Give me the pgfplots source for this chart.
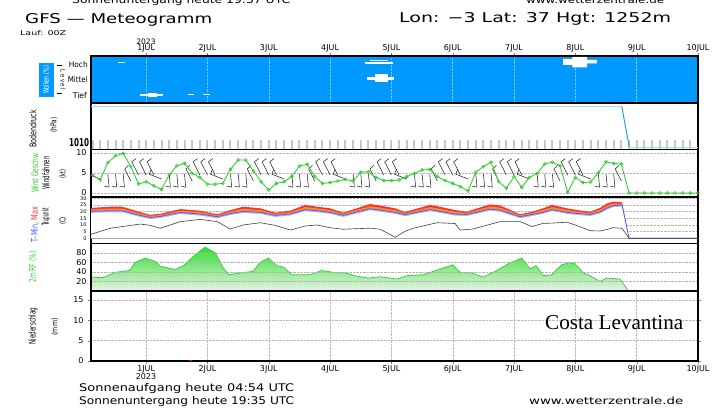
\documentclass[border=0pt]{standalone}
\usepackage{fontspec}
\setmainfont{DejaVu Sans}
\newfontfamily\seriffont{Liberation Serif}
\usepackage{graphicx}
\usepackage{pgfplots}
\usepackage{pgfplotstable}
\pgfplotsset{compat=1.18}
\definecolor{cloudblue}{HTML}{0099FF}
\definecolor{windgreen}{HTML}{33CC33}
\definecolor{tred}{HTML}{FF3030}
\definecolor{torange}{HTML}{FF8C20}
\definecolor{tblue}{HTML}{4A5CFF}
\definecolor{tlav}{HTML}{A8B0FF}
\definecolor{pblue}{HTML}{A6DAF5}
\definecolor{pdrop}{HTML}{2A9DF0}
\definecolor{rfgreen}{HTML}{2EE02E}
\definecolor{rfline}{HTML}{44CC44}
\definecolor{rfgray}{HTML}{B9CBB9}
\definecolor{rfpale}{HTML}{E8F2E8}
\newcommand{\fb}[3]{\resizebox{#1}{#2}{#3}}
\pgfplotsset{
  mpanel/.style={scale only axis, width=607pt, xmin=0.1, xmax=10,
    axis line style={line width=1.2pt}, xtick=\empty, ytick=\empty,
    tick label style={font=\fontsize{8}{9}\selectfont},
    /pgf/number format/assume math mode=true, anchor=south west,
    major tick length=0pt},
}
\pgfplotstableread{
d tmax tmid tmin tlow td
0.1 22.8 21.7 20.3 19.1 3.0
0.413 23.7 22.3 20.7 19.5 7.5
0.609 23.7 22.3 20.7 19.5 8.8
0.902 19.7 18.6 17.2 16.0 10.7
1.065 17.6 16.7 15.6 14.4 9.7
1.228 18.4 17.5 16.4 15.2 7.5
1.554 21.9 20.8 19.4 18.2 12.5
1.88 20.7 19.6 18.2 17.0 14.2
2.158 18.0 17.2 16.2 15.0 12.5
2.37 21.1 20.0 18.6 17.4 7.0
2.582 23.7 22.1 20.2 19.0 10.0
2.859 22.5 21.2 19.5 18.3 11.7
3.103 19.2 18.3 17.2 16.0 9.7
3.348 20.7 19.6 18.2 17.0 6.2
3.593 25.0 23.4 21.5 20.3 9.2
3.788 23.7 22.4 20.7 19.5 10.0
4.0 22.5 21.2 19.5 18.3 7.9
4.212 19.2 18.3 17.2 16.0 6.8
4.652 25.7 24.1 22.2 21.0 7.6
4.815 24.6 23.0 21.1 19.9 6.8
5.06 22.5 21.2 19.5 18.3 0.8
5.223 19.7 18.8 17.7 16.5 5.3
5.353 21.5 20.4 19.0 17.8 7.5
5.631 25.0 23.4 21.5 20.3 10.5
5.745 24.1 22.5 20.6 19.4 11.7
6.038 21.2 19.9 18.2 17.0 11.1
6.12 20.6 19.5 18.1 16.9 6.2
6.234 19.9 19.0 17.9 16.7 6.6
6.332 21.5 20.4 19.0 17.8 7.0
6.609 25.4 23.8 21.9 20.7 10.5
6.772 24.6 23.0 21.1 19.9 12.5
7.098 18.0 17.2 16.2 15.0 12.5
7.294 19.9 19.0 17.9 16.7 8.8
7.473 22.5 21.2 19.5 18.3 11.2
7.62 25.0 23.4 21.5 20.3 11.4
7.865 22.5 21.2 19.5 18.3 12.1
8.044 21.1 20.0 18.6 17.4 9.2
8.24 19.9 19.0 17.9 16.7 5.7
8.403 22.8 21.5 19.8 18.6 5.5
8.517 26.2 24.6 22.7 21.5 6.6
8.615 27.5 26.1 24.5 23.3 8.0
8.761 27.0 26.1 25.0 23.8 7.5
8.875 0 0 0 0 0
10.0 0 0 0 0 0
}\temps
\begin{document}
\begin{tikzpicture}
\useasboundingbox (0pt,0pt) rectangle (728pt,409pt);

% ---------- header / footer texts ----------
\node[anchor=base west, inner sep=0] at (72pt,405.5pt) {\fb{218pt}{8pt}{Sonnenuntergang heute 19:37 UTC}};
\node[anchor=base west, inner sep=0] at (526pt,405pt) {\fb{138pt}{7pt}{www.wetterzentrale.de}};
\node[anchor=base west, inner sep=0] at (25pt,385.7pt) {\fb{187pt}{10pt}{GFS — Meteogramm}};
\node[anchor=base west, inner sep=0] at (399pt,386pt) {\fb{272pt}{10pt}{Lon: −3 Lat: 37 Hgt: 1252m}};
\node[anchor=base west, inner sep=0] at (20pt,373.7pt) {\fb{46pt}{5pt}{Lauf: 00Z}};
\node[anchor=base, inner sep=0, font=\fontsize{7.5}{9}\selectfont] at (146pt,364.5pt) {2023};
\node[anchor=base, inner sep=0, font=\fontsize{8}{9}\selectfont] at (146pt,29.7pt) {2023};
\node[anchor=base west, inner sep=0] at (79pt,17pt) {\fb{215pt}{8pt}{Sonnenaufgang heute 04:54 UTC}};
\node[anchor=base west, inner sep=0] at (79pt,4.5pt) {\fb{215pt}{8pt}{Sonnenuntergang heute 19:35 UTC}};
\node[anchor=base west, inner sep=0] at (529pt,4pt) {\fb{154pt}{7.5pt}{www.wetterzentrale.de}};

% ---------- left labels ----------
\fill[cloudblue] (39pt,312pt) rectangle (54pt,346pt);
\node[rotate=90, inner sep=0, white] at (46.5pt,329pt) {\fb{28pt}{6pt}{Wolken (\%)}};
\node[rotate=-90, inner sep=0] at (63pt,329pt) {\fb{20pt}{5pt}{L e v e l}};
\draw[line width=0.6pt] (57pt,344pt) -- (62pt,344pt);
\draw[line width=0.6pt] (57pt,316pt) -- (62pt,316pt);
\node[anchor=east, inner sep=0] at (88pt,344.5pt) {\fb{19pt}{6pt}{Hoch}};
\node[anchor=east, inner sep=0] at (88pt,329pt) {\fb{20pt}{6pt}{Mittel}};
\node[anchor=east, inner sep=0] at (87pt,313.5pt) {\fb{14pt}{6pt}{Tief}};
\node[rotate=90, inner sep=0] at (33pt,280pt) {\fb{38pt}{7pt}{Bodendruck}};
\node[rotate=90, inner sep=0] at (54pt,284pt) {\fb{15pt}{6pt}{(hPa)}};
\node[inner sep=0] at (79pt,266pt) {\fb{20pt}{8pt}{\bfseries 1010}};
\node[rotate=90, inner sep=0, windgreen] at (35pt,236pt) {\fb{40pt}{7pt}{Wind Geschw.}};
\node[rotate=90, inner sep=0] at (46pt,236pt) {\fb{33pt}{7pt}{Windfahnen}};
\node[rotate=90, inner sep=0] at (63pt,235pt) {\fb{9pt}{6pt}{(kt)}};
\node[rotate=90, inner sep=0] at (35pt,184pt) {\fb{36pt}{7pt}{\textcolor{tblue}{T–Min,} \textcolor{tred}{Max}}};
\node[rotate=90, inner sep=0] at (46pt,192pt) {\fb{18pt}{7pt}{Taupunkt}};
\node[rotate=90, inner sep=0] at (63pt,188pt) {\fb{8pt}{6pt}{(C)}};
\node[rotate=90, inner sep=0, windgreen] at (33pt,142pt) {\fb{31pt}{7pt}{2m RF (\%)}};
\node[rotate=90, inner sep=0] at (33pt,83pt) {\fb{37pt}{7pt}{Niederschlag}};
\node[rotate=90, inner sep=0] at (55pt,82pt) {\fb{17pt}{6pt}{(mm)}};

% ---------- clouds ----------
\begin{axis}[mpanel, at={(91pt,306pt)}, height=47pt, ymin=0, ymax=47,
  axis background/.style={fill=cloudblue},
  xtick={1,2,3,4,5,6,7,8,9,10},
  xticklabels={1JUL,2JUL,3JUL,4JUL,5JUL,6JUL,7JUL,8JUL,9JUL,10JUL},
  xticklabel pos=top, xtick pos=top, tick align=outside, major tick length=3pt,
  xticklabel style={inner sep=0.3pt},
  xmajorgrids, grid style={densely dotted, white!45!cloudblue, line width=0.6pt}]
\addplot[fill=white, draw=none] coordinates {(0.543,39.5) (0.658,39.5) (0.658,41) (0.543,41)} -- cycle;
\addplot[fill=white, draw=none] coordinates {(0.902,7.3) (1.277,7.3) (1.277,8.8) (0.902,8.8)} -- cycle;
\addplot[fill=white, draw=none] coordinates {(1.033,6) (1.18,6) (1.18,10) (1.033,10)} -- cycle;
\addplot[fill=white, draw=none] coordinates {(1.685,7.5) (1.78,7.5) (1.78,8.7) (1.685,8.7)} -- cycle;
\addplot[fill=white, draw=none] coordinates {(1.93,7.5) (2.04,7.5) (2.04,8.7) (1.93,8.7)} -- cycle;
\addplot[fill=white, draw=none] coordinates {(4.571,39.3) (5.027,39.3) (5.027,40.7) (4.571,40.7)} -- cycle;
\addplot[fill=white, draw=none] coordinates {(4.65,41.5) (4.95,41.5) (4.95,42.8) (4.65,42.8)} -- cycle;
\addplot[fill=white, draw=none] coordinates {(4.603,23) (5.044,23) (5.044,26) (4.603,26)} -- cycle;
\addplot[fill=white, draw=none] coordinates {(4.734,21) (4.946,21) (4.946,28.5) (4.734,28.5)} -- cycle;
\addplot[fill=white, draw=none] coordinates {(7.8,38) (7.95,38) (7.95,35.5) (8.19,35.5) (8.19,39.5) (8.35,39.5) (8.35,43) (8.19,43) (8.19,46) (7.95,46) (7.95,44) (7.8,44)} -- cycle;
\end{axis}

% ---------- pressure ----------
\begin{axis}[mpanel, at={(91pt,259.5pt)}, height=46.5pt, ymin=-54.7, ymax=1102.1,
  xtick={0.125,0.25,...,10}, xticklabels={}, xtick pos=bottom, tick align=inside,
  major tick length=9pt, xtick style={gray!45, line width=2pt}]
\addplot[pblue, line width=1.6pt] coordinates {(0.1,1010) (8.757,1010)};
\addplot[pdrop, line width=1pt] coordinates {(8.757,1010) (8.88,0)};
\addplot[pblue, line width=1.3pt] coordinates {(8.88,0) (10,0)};
\end{axis}

% ---------- wind ----------
\begin{axis}[mpanel, at={(91pt,212pt)}, height=47.5pt, ymin=-1, ymax=10.875,
  ytick={0,5,10}, yticklabel style={xshift=-1pt},
  ymajorgrids, grid style={densely dotted, gray!55}]
\addplot[quiver={u=\thisrow{u},v=\thisrow{v}}, black!85, line width=0.55pt] table[row sep=\\] {
x y u v\\
0.125 4.5 -0.11 3.3\\ 0.25 3.5 -0.2 1.2\\ 0.375 4.75 0.02 -3.3\\ 0.5 4.75 0.02 -3.3\\ 0.625 4.75 0.02 -3.3\\ 0.75 3.0 -0.1 3.0\\ 0.875 4.5 -0.11 3.3\\ 1.0 4.5 -0.11 3.3\\
1.125 4.5 -0.11 3.3\\ 1.25 3.5 -0.2 1.2\\ 1.375 4.75 0.02 -3.3\\ 1.5 4.75 0.02 -3.3\\ 1.625 4.75 0.02 -3.3\\ 1.75 3.0 -0.1 3.0\\ 1.875 4.5 -0.11 3.3\\ 2.0 4.5 -0.11 3.3\\
2.125 4.5 -0.11 3.3\\ 2.25 3.5 -0.2 1.2\\ 2.375 4.75 0.02 -3.3\\ 2.5 4.75 0.02 -3.3\\ 2.625 4.75 0.02 -3.3\\ 2.75 3.0 -0.1 3.0\\ 2.875 4.5 -0.11 3.3\\ 3.0 4.5 -0.11 3.3\\
3.125 4.5 -0.11 3.3\\ 3.25 3.5 -0.2 1.2\\ 3.375 4.75 0.02 -3.3\\ 3.5 4.75 0.02 -3.3\\ 3.625 4.75 0.02 -3.3\\ 3.75 3.0 -0.1 3.0\\ 3.875 4.5 -0.11 3.3\\ 4.0 4.5 -0.11 3.3\\
4.125 4.5 -0.11 3.3\\ 4.25 3.5 -0.2 1.2\\ 4.375 4.75 0.02 -3.3\\ 4.5 4.75 0.02 -3.3\\ 4.625 4.75 0.02 -3.3\\ 4.75 3.0 -0.1 3.0\\ 4.875 4.5 -0.11 3.3\\ 5.0 4.5 -0.11 3.3\\
5.125 4.5 -0.11 3.3\\ 5.25 3.5 -0.2 1.2\\ 5.375 4.75 0.02 -3.3\\ 5.5 4.75 0.02 -3.3\\ 5.625 4.75 0.02 -3.3\\ 5.75 3.0 -0.1 3.0\\ 5.875 4.5 -0.11 3.3\\ 6.0 4.5 -0.11 3.3\\
6.125 4.5 -0.11 3.3\\ 6.25 3.5 -0.2 1.2\\ 6.375 4.75 0.02 -3.3\\ 6.5 4.75 0.02 -3.3\\ 6.625 4.75 0.02 -3.3\\ 6.75 3.0 -0.1 3.0\\ 6.875 4.5 -0.11 3.3\\ 7.0 4.5 -0.11 3.3\\
7.125 4.5 -0.11 3.3\\ 7.25 3.5 -0.2 1.2\\ 7.375 4.75 0.02 -3.3\\ 7.5 4.75 0.02 -3.3\\ 7.625 4.75 0.02 -3.3\\ 7.75 3.0 -0.1 3.0\\ 7.875 4.5 -0.11 3.3\\ 8.0 4.5 -0.11 3.3\\
8.125 4.5 -0.11 3.3\\ 8.25 3.5 -0.2 1.2\\ 8.375 4.75 0.02 -3.3\\ 8.5 4.75 0.02 -3.3\\ 8.625 4.75 0.02 -3.3\\ 8.75 3.0 -0.1 3.0\\
};
\addplot[quiver={u=\thisrow{u},v=\thisrow{v}}, black!85, line width=0.55pt] table[row sep=\\] {
x y u v\\
0.015 7.8 0.07 0.8\\ 0.05 4.7 0.03 1.2\\ 0.395 1.45 -0.08 0.3\\ 0.52 1.45 -0.08 0.3\\ 0.645 1.45 -0.08 0.3\\ 0.65 6.0 0.06 0.9\\ 0.765 7.8 0.07 0.8\\ 0.89 7.8 0.07 0.8\\
1.015 7.8 0.07 0.8\\ 1.05 4.7 0.03 1.2\\ 1.395 1.45 -0.08 0.3\\ 1.52 1.45 -0.08 0.3\\ 1.645 1.45 -0.08 0.3\\ 1.65 6.0 0.06 0.9\\ 1.765 7.8 0.07 0.8\\ 1.89 7.8 0.07 0.8\\
2.015 7.8 0.07 0.8\\ 2.05 4.7 0.03 1.2\\ 2.395 1.45 -0.08 0.3\\ 2.52 1.45 -0.08 0.3\\ 2.645 1.45 -0.08 0.3\\ 2.65 6.0 0.06 0.9\\ 2.765 7.8 0.07 0.8\\ 2.89 7.8 0.07 0.8\\
3.015 7.8 0.07 0.8\\ 3.05 4.7 0.03 1.2\\ 3.395 1.45 -0.08 0.3\\ 3.52 1.45 -0.08 0.3\\ 3.645 1.45 -0.08 0.3\\ 3.65 6.0 0.06 0.9\\ 3.765 7.8 0.07 0.8\\ 3.89 7.8 0.07 0.8\\
4.015 7.8 0.07 0.8\\ 4.05 4.7 0.03 1.2\\ 4.395 1.45 -0.08 0.3\\ 4.52 1.45 -0.08 0.3\\ 4.645 1.45 -0.08 0.3\\ 4.65 6.0 0.06 0.9\\ 4.765 7.8 0.07 0.8\\ 4.89 7.8 0.07 0.8\\
5.015 7.8 0.07 0.8\\ 5.05 4.7 0.03 1.2\\ 5.395 1.45 -0.08 0.3\\ 5.52 1.45 -0.08 0.3\\ 5.645 1.45 -0.08 0.3\\ 5.65 6.0 0.06 0.9\\ 5.765 7.8 0.07 0.8\\ 5.89 7.8 0.07 0.8\\
6.015 7.8 0.07 0.8\\ 6.05 4.7 0.03 1.2\\ 6.395 1.45 -0.08 0.3\\ 6.52 1.45 -0.08 0.3\\ 6.645 1.45 -0.08 0.3\\ 6.65 6.0 0.06 0.9\\ 6.765 7.8 0.07 0.8\\ 6.89 7.8 0.07 0.8\\
7.015 7.8 0.07 0.8\\ 7.05 4.7 0.03 1.2\\ 7.395 1.45 -0.08 0.3\\ 7.52 1.45 -0.08 0.3\\ 7.645 1.45 -0.08 0.3\\ 7.65 6.0 0.06 0.9\\ 7.765 7.8 0.07 0.8\\ 7.89 7.8 0.07 0.8\\
8.015 7.8 0.07 0.8\\ 8.05 4.7 0.03 1.2\\ 8.395 1.45 -0.08 0.3\\ 8.52 1.45 -0.08 0.3\\ 8.645 1.45 -0.08 0.3\\ 8.65 6.0 0.06 0.9\\
};
\addplot[windgreen, line width=0.9pt, mark=o, mark size=1.5pt, mark options={fill=windgreen!35, line width=0.6pt}] table[row sep=\\] {
x y\\
0.125 4.5\\ 0.25 3.25\\ 0.375 7.6\\ 0.5 9.3\\ 0.625 9.9\\ 0.75 6.6\\ 0.875 2.25\\ 1.0 2.8\\ 1.125 1.8\\ 1.25 0.9\\ 1.375 4.5\\ 1.5 6.8\\ 1.625 7.4\\ 1.75 4.9\\ 1.875 3.9\\ 2.0 2.2\\
2.125 2.2\\ 2.25 2.4\\ 2.375 5.9\\ 2.5 8.25\\ 2.625 8.25\\ 2.75 5.5\\ 2.875 2.8\\ 3.0 0.75\\ 3.125 2.4\\ 3.25 2.8\\ 3.375 4.1\\ 3.5 6.75\\ 3.625 7.2\\ 3.75 4.1\\ 3.875 2.4\\ 4.0 2.6\\
4.125 3.0\\ 4.25 3.4\\ 4.375 3.0\\ 4.5 5.2\\ 4.625 5.3\\ 4.75 3.9\\ 4.875 3.1\\ 5.0 3.1\\ 5.125 3.25\\ 5.25 4.1\\ 5.375 4.9\\ 5.5 5.75\\ 5.625 5.9\\ 5.75 4.1\\ 5.875 3.1\\ 6.0 2.4\\
6.125 1.6\\ 6.25 0.5\\ 6.375 5.2\\ 6.5 6.6\\ 6.625 7.7\\ 6.75 2.8\\ 6.875 1.2\\ 7.0 4.1\\ 7.125 1.4\\ 7.25 3.9\\ 7.375 4.9\\ 7.5 7.25\\ 7.625 7.7\\ 7.75 6.8\\ 7.875 0.2\\ 8.0 3.9\\
8.125 2.6\\ 8.25 2.75\\ 8.375 5.1\\ 8.5 7.8\\ 8.625 7.4\\ 8.75 7.25\\ 8.875 0\\ 9.0 0\\ 9.125 0\\ 9.25 0\\ 9.375 0\\ 9.5 0\\ 9.625 0\\ 9.75 0\\ 9.875 0\\ 10.0 0\\
};
\end{axis}

% ---------- temperature ----------
\begin{axis}[mpanel, at={(91pt,165.7pt)}, height=46.3pt, ymin=-3.75, ymax=31,
  ytick={0,5,...,30}, yticklabel style={font=\fontsize{5}{5}\selectfont, xshift=-1pt},
  ymajorgrids, grid style={densely dotted, gray!55}]
\addplot[fill=tred, draw=none] table[x=d,y=tmax] {\temps} \closedcycle;
\addplot[fill=torange, draw=none] table[x=d,y=tmid] {\temps} \closedcycle;
\addplot[fill=tlav, draw=none] table[x=d,y=tmin] {\temps} \closedcycle;
\addplot[fill=white, draw=none] table[x=d,y=tlow] {\temps} \closedcycle;
\addplot[gray!70, line width=0.8pt] coordinates {(0.1,0) (10,0)};
\addplot[tblue, line width=0.8pt] table[x=d,y=tmin] {\temps};
\addplot[black!75, line width=0.6pt] table[x=d,y=td] {\temps};
\end{axis}

% ---------- relative humidity ----------
\begin{axis}[mpanel, at={(91pt,118pt)}, height=47.7pt, ymin=0, ymax=100,
  ytick={20,40,60,80}, yticklabel style={xshift=-1pt},
  ymajorgrids, grid style={densely dotted, gray!60}, axis on top]
\addplot[draw=rfline, line width=0.8pt, top color=rfgreen, middle color=rfgray, bottom color=rfpale] table[row sep=\\] {
x y\\
0.1 29\\ 0.299 28\\ 0.495 39\\ 0.728 43\\ 0.821 60\\ 0.984 69\\ 1.147 62\\ 1.228 52\\ 1.473 45\\ 1.608 53\\ 1.799 76\\ 1.962 92\\ 2.125 80\\ 2.26 48\\ 2.342 34\\ 2.533 38\\ 2.74 41\\ 2.859 60\\ 2.994 69\\
3.131 53\\ 3.239 50\\ 3.376 34\\ 3.674 34\\ 3.865 43\\ 4.054 39\\ 4.245 38\\ 4.436 31\\ 4.625 27\\ 4.815 30\\ 5.088 25\\ 5.251 32\\ 5.522 34\\ 5.794 46\\ 6.001 55\\ 6.12 39\\ 6.311 38\\ 6.5 29\\
6.691 41\\ 6.935 59\\ 7.126 69\\ 7.261 46\\ 7.359 53\\ 7.478 32\\ 7.615 34\\ 7.778 55\\ 7.886 59\\ 7.995 57\\ 8.13 38\\ 8.24 32\\ 8.403 20\\ 8.512 27\\ 8.729 25\\ 8.864 0\\
} \closedcycle;
\end{axis}

% ---------- precipitation ----------
\begin{axis}[mpanel, at={(91pt,48pt)}, height=70pt, ymin=0, ymax=17.2,
  ytick={0,5,10,15}, yticklabel style={xshift=-1pt},
  xtick={1,2,3,4,5,6,7,8,9,10},
  xticklabels={1JUL,2JUL,3JUL,4JUL,5JUL,6JUL,7JUL,8JUL,9JUL,10JUL},
  xtick pos=bottom, xticklabel pos=bottom, tick align=outside, major tick length=3pt,
  xticklabel style={inner sep=1.5pt},
  xmajorgrids, ymajorgrids, grid style={densely dotted, gray!55}]
\addplot[ybar, bar width=1.5pt, fill=red, draw=red] coordinates {(1.72,0.2)};
\end{axis}
\node[anchor=base west, inner sep=0] at (545pt,79.5pt) {\fb{138pt}{14pt}{\seriffont Costa Levantina}};
\end{tikzpicture}
\end{document}
